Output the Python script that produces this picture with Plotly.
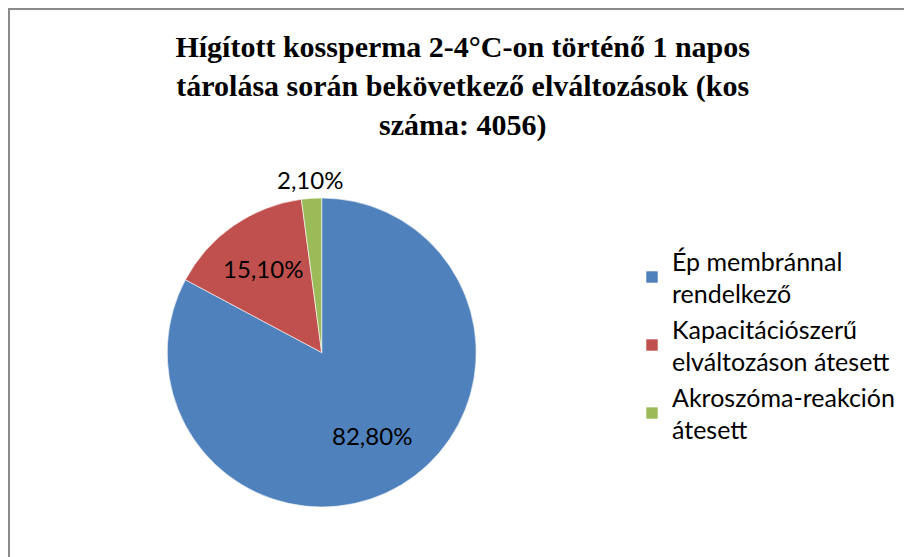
import math
import plotly.graph_objects as go

labels = ["Ép membránnal<br>rendelkező", "Kapacitációszerű<br>elváltozáson átesett", "Akroszóma-reakción<br>átesett"]
values = [82.8, 15.1, 2.1]
value_labels = ["82,80%", "15,10%", "2,10%"]
colors = ["#4F81BD", "#C0504D", "#9BBB59"]
label_radius = [0.63, 0.665, 1.12]  # label distance from centre, as fraction of radius

W, H = 912, 557
OFF = 8  # page body margin
cx, cy, r = 321.7 - OFF, 352.5 - OFF, 154.5

fig = go.Figure(go.Pie(
    labels=labels,
    values=values,
    sort=False,
    direction="clockwise",
    rotation=0,
    marker=dict(colors=colors, line=dict(color="white", width=0.6)),
    textinfo="none",
    hole=0,
    domain=dict(x=[(cx - r) / W, (cx + r) / W], y=[(H - cy - r) / H, (H - cy + r) / H]),
    automargin=False,
))

# data labels placed at the mid-angle of each slice
total = sum(values)
annotations = []
cum = 0.0
for v, txt, fr in zip(values, value_labels, label_radius):
    mid = (cum + v / 2) / total * 2 * math.pi
    cum += v
    px = cx + fr * r * math.sin(mid)
    py = cy - fr * r * math.cos(mid)
    annotations.append(dict(
        x=px / W, y=1 - py / H, xref="paper", yref="paper",
        text=txt, showarrow=False, xanchor="center", yanchor="middle",
        font=dict(family="Lato", size=24, color="black"),
    ))

fig.update_layout(
    width=W, height=H,
    margin=dict(l=0, r=0, t=0, b=0),
    paper_bgcolor="white",
    plot_bgcolor="white",
    title=dict(
        text="Hígított kossperma 2-4°C-on történő 1 napos<br>tárolása során bekövetkező elváltozások (kos<br>száma: 4056)",
        font=dict(family="Liberation Serif", size=30, color="black", weight="bold"),
        x=454.7 / W, xanchor="center",
        y=1 - 49 / H, yanchor="top",
    ),
    legend=dict(
        x=624 / W, xanchor="left",
        y=1 - 230 / H, yanchor="top",
        font=dict(family="Lato", size=25, color="black"),
        bgcolor="rgba(0,0,0,0)",
    ),
    showlegend=True,
    annotations=annotations,
    shapes=[dict(
        type="rect", xref="paper", yref="paper",
        x0=1 / W, x1=1.1, y0=-0.1, y1=1 - 1 / H,
        line=dict(color="#8A8A8A", width=2),
        fillcolor="rgba(0,0,0,0)",
    )],
)

fig.write_html("out.html")
